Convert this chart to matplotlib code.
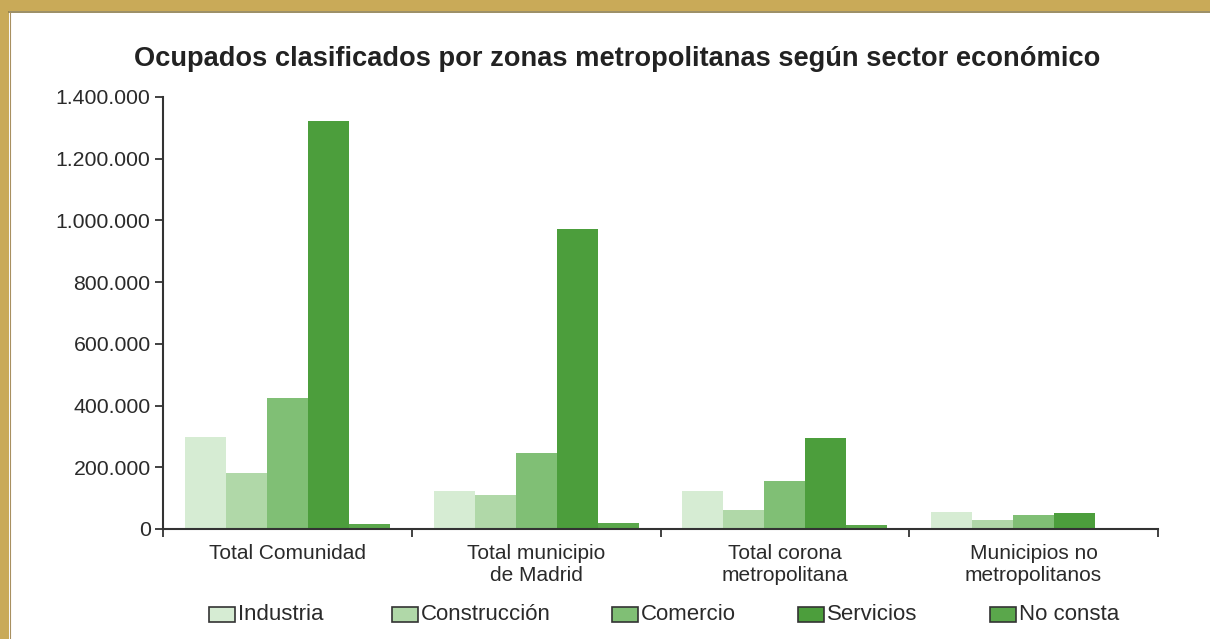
import matplotlib
matplotlib.use("Agg")
import matplotlib.pyplot as plt
from matplotlib.patches import Rectangle
import numpy as np

plt.rcParams['font.family'] = ['Liberation Sans', 'DejaVu Sans']

categories = ["Total Comunidad", "Total municipio\nde Madrid",
              "Total corona\nmetropolitana", "Municipios no\nmetropolitanos"]
series_names = ["Industria", "Construcción", "Comercio", "Servicios", "No consta"]
industria = [298000, 123000, 123000, 55000]
construccion = [181000, 110000, 62000, 29000]
comercio = [425000, 246000, 156000, 45000]
servicios = [1322000, 972000, 295000, 52000]
no_consta = [16000, 19000, 13000, 0]
yticks = [0, 200000, 400000, 600000, 800000, 1000000, 1200000, 1400000]
ytick_labels = ["0", "200.000", "400.000", "600.000", "800.000",
                "1.000.000", "1.200.000", "1.400.000"]

colors = ["#d6ecd3", "#b0d8a8", "#80bf75", "#4c9e3c", "#5aa74b"]
series = [industria, construccion, comercio, servicios, no_consta]

fig = plt.figure(figsize=(12.10, 6.39), dpi=100)
fig.patch.set_facecolor("white")

# gold frame (top and left)
fig.patches.append(Rectangle((0, 1 - 11/639), 1, 11/639, transform=fig.transFigure,
                             facecolor="#c9aa58", edgecolor="none", zorder=0))
fig.patches.append(Rectangle((0, 0), 9/1210, 1, transform=fig.transFigure,
                             facecolor="#c9aa58", edgecolor="none", zorder=0))
fig.lines.append(plt.Line2D([9/1210, 1], [1 - 12/639, 1 - 12/639], transform=fig.transFigure,
                            color="#8a7a4a", lw=1.2))
fig.lines.append(plt.Line2D([10/1210, 10/1210], [0, 1 - 12/639], transform=fig.transFigure,
                            color="#a89060", lw=0.8))

ax = fig.add_axes([163/1210, 1 - 529/639, (1158 - 163)/1210, (529 - 97)/639])
x = np.arange(len(categories))
w = 0.165
for i, (vals, c) in enumerate(zip(series, colors)):
    ax.bar(x + (i - 2) * w, vals, width=w, color=c, edgecolor="none", zorder=2)

ax.set_xlim(-0.5, 3.5)
ax.set_ylim(0, 1400000)
ax.set_yticks(yticks)
ax.set_yticklabels(ytick_labels, fontsize=15.3, color="#2a2a2a")
ax.set_xticks([-0.5, 0.5, 1.5, 2.5, 3.5])
ax.set_xticklabels([])
ax.set_xticks(x, minor=True)
ax.set_xticklabels(categories, minor=True, fontsize=15, color="#2a2a2a", linespacing=1.15)
ax.tick_params(axis="x", which="minor", length=0, pad=11)
ax.tick_params(axis="x", which="major", length=6, width=1.3, color="#333333", direction="out")
ax.tick_params(axis="y", length=6, width=1.3, color="#333333", direction="out", pad=3)
for s in ["top", "right"]:
    ax.spines[s].set_visible(False)
for s in ["left", "bottom"]:
    ax.spines[s].set_color("#333333")
    ax.spines[s].set_linewidth(1.5)
ax.set_facecolor("none")

fig.text(617/1210, 1 - 59/639, "Ocupados clasificados por zonas metropolitanas según sector económico",
         ha="center", va="center", fontsize=19.6, fontweight="bold", color="#222222")

# legend (left edges of the swatches, in pixels)
leg_x = [209, 392, 612, 798, 990]
leg_y = 1 - 614/639
bw, bh = 26/1210, 15/639
for name, c, lx in zip(series_names, colors, leg_x):
    fig.patches.append(Rectangle((lx/1210, leg_y - bh/2), bw, bh, transform=fig.transFigure,
                                 facecolor=c, edgecolor="#333333", lw=1.2))
    fig.text(lx/1210 + bw + 3/1210, leg_y, name, ha="left", va="center",
             fontsize=16, color="#2a2a2a")

fig.savefig("out.png", dpi=100, facecolor=fig.get_facecolor())
